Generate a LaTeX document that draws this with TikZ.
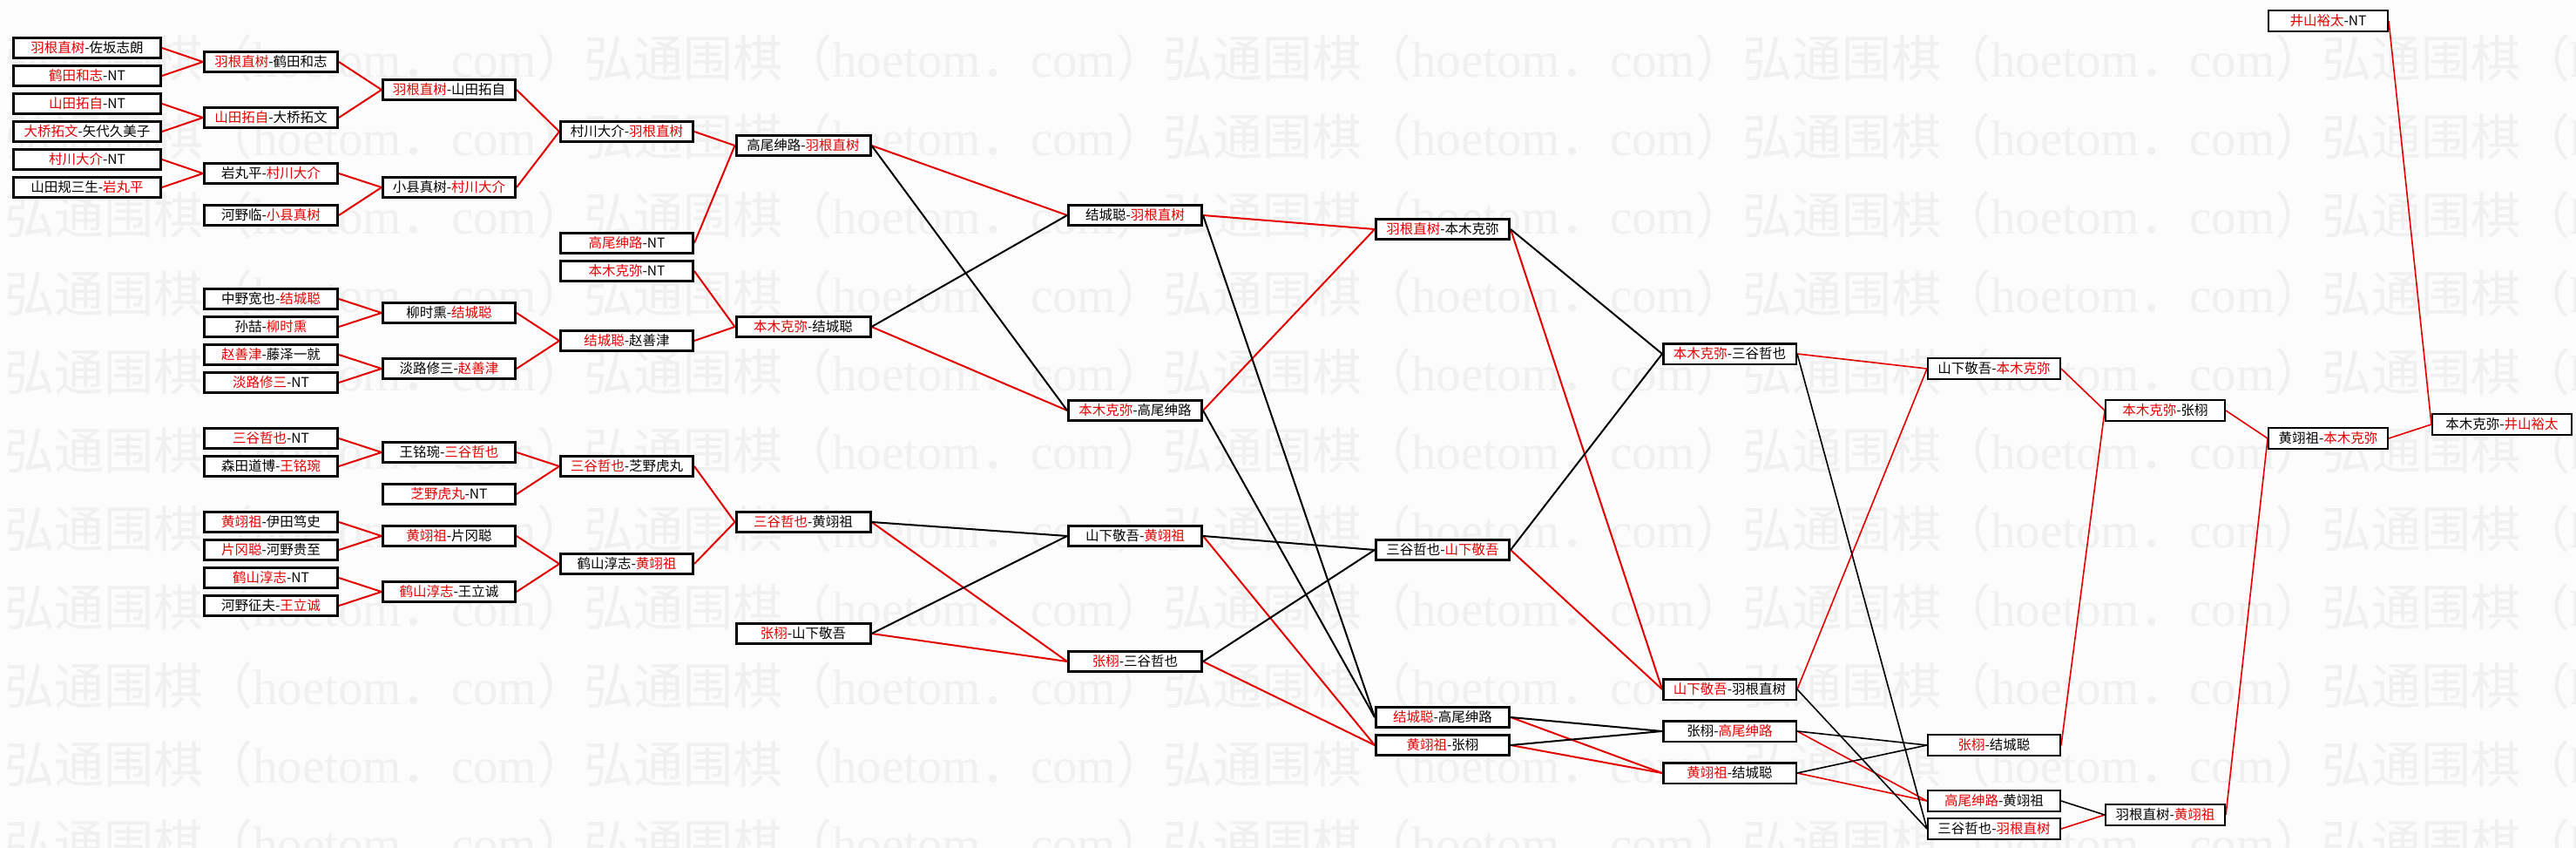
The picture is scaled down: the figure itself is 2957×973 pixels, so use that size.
\documentclass[tikz,border=0pt]{standalone}
\usepackage{fontspec}
\setmainfont{Noto Sans CJK SC}
\newfontfamily\cjkf{Noto Sans CJK SC}
\newfontfamily\wmlat{Liberation Serif}
\definecolor{wred}{RGB}{228,0,0}
\definecolor{wmk}{RGB}{240,240,240}
\definecolor{pagebg}{RGB}{252,252,252}
\newcommand\redw[1]{\textcolor{wred}{#1}}
\pgfdeclarelayer{wmlayer}
\pgfdeclarelayer{lines}
\pgfsetlayers{wmlayer,lines,main}
\tikzset{
  bx/.style={draw=black, line width=3pt, fill=white, inner sep=0pt, anchor=center,
    minimum height=23pt, font=\fontsize{15.5}{16}\selectfont},
  bxt/.style={bx, line width=2pt, minimum height=24pt},
  c1/.style={bx, minimum width=169pt},
  c2/.style={bx, minimum width=153pt},
  c3/.style={bx, minimum width=152pt},
  c4/.style={bx, minimum width=152pt},
  c5/.style={bx, minimum width=154pt},
  c6/.style={bx, minimum width=153pt},
  c7/.style={bx, minimum width=153pt},
  c8/.style={bx, line width=2.5pt, minimum height=23.5pt, minimum width=152.5pt},
  c9/.style={bxt, minimum width=152pt},
  c10/.style={bxt, minimum width=137pt},
  c11/.style={bxt, minimum width=137pt},
  c12/.style={bxt, minimum width=160pt},
  rl/.style={draw=wred, line width=2pt},
  bl/.style={draw=black, line width=2pt},
  rlt/.style={draw=wred, line width=1.6pt},
  blt/.style={draw=black, line width=1.6pt},
  wmtext/.style={anchor=west, inner sep=0pt, text=wmk, font=\fontsize{57}{60}\selectfont}
}
\begin{document}
\begin{tikzpicture}[x=1pt,y=-1pt]
\useasboundingbox (0,0) rectangle (2957,973);
% watermark
\begin{pgfonlayer}{wmlayer}
\fill[pagebg] (0,0) rectangle (2957,973);
\begin{scope}
\clip (0,0) rectangle (2957,973);
\foreach \r in {0,...,10}{
  \foreach \c in {0,...,4}{
    \node[wmtext] (wm-\r-\c) at ({5+665*\c},{67+90*\r})
      {\cjkf 弘通围棋（\wmlat hoetom\cjkf ．\wmlat com\cjkf ）};
  }
}
\end{scope}
\end{pgfonlayer}
% column 1
\node[c1] (A1) at (100,55) {\redw{羽根直树}-佐坂志朗};
\node[c1] (A2) at (100,87) {\redw{鹤田和志}-NT};
\node[c1] (A3) at (100,119) {\redw{山田拓自}-NT};
\node[c1] (A4) at (100,151) {\redw{大桥拓文}-矢代久美子};
\node[c1] (A5) at (100,183) {\redw{村川大介}-NT};
\node[c1] (A6) at (100,215) {山田规三生-\redw{岩丸平}};
% column 2
\node[c2] (B1) at (311,71) {\redw{羽根直树}-鹤田和志};
\node[c2] (B2) at (311,135) {\redw{山田拓自}-大桥拓文};
\node[c2] (B3) at (311,199) {岩丸平-\redw{村川大介}};
\node[c2] (B4) at (311,247) {河野临-\redw{小县真树}};
\node[c2] (B5) at (311,343) {中野宽也-\redw{结城聪}};
\node[c2] (B6) at (311,375) {孙喆-\redw{柳时熏}};
\node[c2] (B7) at (311,407) {\redw{赵善津}-藤泽一就};
\node[c2] (B8) at (311,439) {\redw{淡路修三}-NT};
\node[c2] (B9) at (311,503) {\redw{三谷哲也}-NT};
\node[c2] (B10) at (311,535) {森田道博-\redw{王铭琬}};
\node[c2] (B11) at (311,599) {\redw{黄翊祖}-伊田笃史};
\node[c2] (B12) at (311,631) {\redw{片冈聪}-河野贵至};
\node[c2] (B13) at (311,663) {\redw{鹤山淳志}-NT};
\node[c2] (B14) at (311,695) {河野征夫-\redw{王立诚}};
% column 3
\node[c3] (C1) at (515.5,103) {\redw{羽根直树}-山田拓自};
\node[c3] (C2) at (515.5,215) {小县真树-\redw{村川大介}};
\node[c3] (C3) at (515.5,359) {柳时熏-\redw{结城聪}};
\node[c3] (C4) at (515.5,423) {淡路修三-\redw{赵善津}};
\node[c3] (C5) at (515.5,519) {王铭琬-\redw{三谷哲也}};
\node[c3] (C6) at (515.5,567) {\redw{芝野虎丸}-NT};
\node[c3] (C7) at (515.5,615) {\redw{黄翊祖}-片冈聪};
\node[c3] (C8) at (515.5,679) {\redw{鹤山淳志}-王立诚};
% column 4
\node[c4] (D1) at (719.5,151) {村川大介-\redw{羽根直树}};
\node[c4] (D2) at (719.5,279) {\redw{高尾绅路}-NT};
\node[c4] (D3) at (719.5,311) {\redw{本木克弥}-NT};
\node[c4] (D4) at (719.5,391) {\redw{结城聪}-赵善津};
\node[c4] (D5) at (719.5,535) {\redw{三谷哲也}-芝野虎丸};
\node[c4] (D6) at (719.5,647) {鹤山淳志-\redw{黄翊祖}};
% column 5
\node[c5] (E1) at (922,167) {高尾绅路-\redw{羽根直树}};
\node[c5] (E2) at (922,375) {\redw{本木克弥}-结城聪};
\node[c5] (E3) at (922,599) {\redw{三谷哲也}-黄翊祖};
\node[c5] (E4) at (922,727) {\redw{张栩}-山下敬吾};
% column 6
\node[c6] (F1) at (1303,247) {结城聪-\redw{羽根直树}};
\node[c6] (F2) at (1303,471) {\redw{本木克弥}-高尾绅路};
\node[c6] (F3) at (1303,615) {山下敬吾-\redw{黄翊祖}};
\node[c6] (F4) at (1303,759) {\redw{张栩}-三谷哲也};
% column 7
\node[c7] (G1) at (1656,263) {\redw{羽根直树}-本木克弥};
\node[c7] (G2) at (1656,631) {三谷哲也-\redw{山下敬吾}};
\node[c7] (G3) at (1656,823) {\redw{结城聪}-高尾绅路};
\node[c7] (G4) at (1656,855) {\redw{黄翊祖}-张栩};
% column 8
\node[c8] (H1) at (1985.5,406) {\redw{本木克弥}-三谷哲也};
\node[c8] (H2) at (1985.5,791) {\redw{山下敬吾}-羽根直树};
\node[c8] (H3) at (1985.5,839) {张栩-\redw{高尾绅路}};
\node[c8] (H4) at (1985.5,887) {\redw{黄翊祖}-结城聪};
% column 9
\node[c9] (I1) at (2289,423) {山下敬吾-\redw{本木克弥}};
\node[c9] (I2) at (2289,855) {\redw{张栩}-结城聪};
\node[c9] (I3) at (2289,919) {\redw{高尾绅路}-黄翊祖};
\node[c9] (I4) at (2289,951) {三谷哲也-\redw{羽根直树}};
% column 10
\node[c10] (J1) at (2485.5,471) {\redw{本木克弥}-张栩};
\node[c10] (J2) at (2485.5,935) {羽根直树-\redw{黄翊祖}};
% column 11
\node[c11] (K0) at (2672.5,24) {\redw{井山裕太}-NT};
\node[c11] (K1) at (2672.5,503) {黄翊祖-\redw{本木克弥}};
% column 12
\node[c12] (L1) at (2872,487) {本木克弥-\redw{井山裕太}};
% connectors
\begin{pgfonlayer}{lines}
\foreach \s/\t in {A1/B1,A2/B1,A3/B2,A4/B2,A5/B3,A6/B3,B1/C1,B2/C1,B3/C2,B4/C2,
  C1/D1,C2/D1,D1/E1,D2/E1,D3/E2,D4/E2,B5/C3,B6/C3,B7/C4,B8/C4,C3/D4,C4/D4,
  B9/C5,B10/C5,C5/D5,C6/D5,B11/C7,B12/C7,B13/C8,B14/C8,C7/D6,C8/D6,D5/E3,D6/E3,
  E1/F1,E2/F2,E3/F4,E4/F4,F1/G1,F2/G1,F3/G4,F4/G4,G1/H2,G2/H2,G3/H4,G4/H4}
  {\draw[rl] (\s.east) -- (\t.west);}
\foreach \s/\t in {E1/F2,E2/F1,E3/F3,E4/F3,F1/G3,F2/G3,F3/G2,F4/G2,
  G1/H1,G2/H1,G3/H3,G4/H3}
  {\draw[bl] (\s.east) -- (\t.west);}
\foreach \s/\t in {H1/I1,H2/I1,H3/I3,H4/I3,I1/J1,I2/J1,I4/J2,J1/K1,J2/K1,K1/L1,K0/L1}
  {\draw[rlt] (\s.east) -- (\t.west);}
\foreach \s/\t in {H1/I4,H2/I4,H3/I2,H4/I2,I3/J2}
  {\draw[blt] (\s.east) -- (\t.west);}
\end{pgfonlayer}
\end{tikzpicture}
\end{document}
